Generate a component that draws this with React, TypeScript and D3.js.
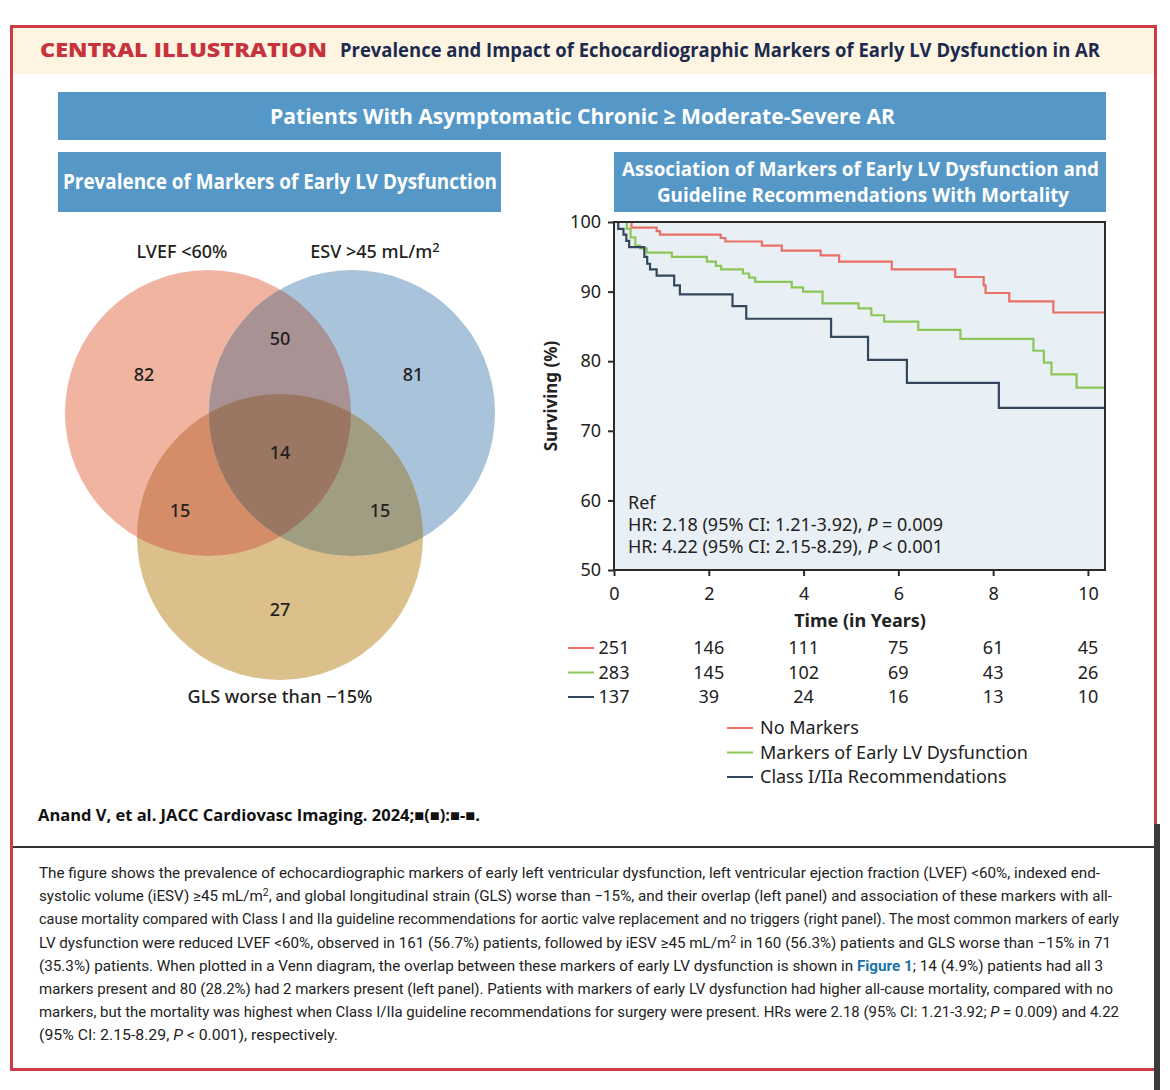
import * as d3 from "d3";
import { useRef, useEffect } from "react";

// Venn diagram counts
const vennRegions = ["LVEF", "ESV", "GLS", "LVEF+ESV", "LVEF+GLS", "ESV+GLS", "ALL"];
const vennValues = [82, 81, 27, 50, 15, 15, 14];

// Kaplan-Meier step curves (time in years, surviving %)
const timeNoMarkers = [0, 0.37, 0.9, 0.97, 2.25, 2.35, 3.12, 3.54, 4.36, 4.75, 5.86, 7.2, 7.8, 7.84, 8.34, 9.27, 10.36];
const survNoMarkers = [100, 99.2, 98.7, 98.2, 97.7, 97.2, 96.6, 95.9, 95.2, 94.3, 93.2, 92.1, 90.9, 89.8, 88.6, 87.0, 87.0];

const timeMarkers = [0, 0.27, 0.35, 0.45, 0.55, 0.69, 1.22, 1.96, 2.15, 2.26, 2.72, 2.85, 2.98, 3.75, 3.99, 4.4, 5.16, 5.43, 5.7, 6.42, 7.31, 8.85, 9.07, 9.23, 9.76, 10.36];
const survMarkers = [100, 99.0, 97.8, 96.6, 96.2, 95.6, 95.0, 94.3, 93.7, 93.2, 92.6, 92.0, 91.4, 90.6, 90.0, 88.3, 87.6, 86.6, 85.7, 84.5, 83.2, 81.5, 79.8, 78.1, 76.2, 76.2];

const timeClass = [0, 0.09, 0.2, 0.26, 0.32, 0.64, 0.7, 0.76, 0.9, 1.27, 1.39, 2.5, 2.79, 4.58, 5.36, 6.18, 8.12, 10.36];
const survClass = [100, 99.0, 98.2, 97.3, 96.4, 95.0, 94.0, 93.2, 92.3, 90.9, 89.6, 87.9, 86.1, 83.5, 80.2, 76.9, 73.3, 73.3];

// numbers at risk
const riskYears = [0, 2, 4, 6, 8, 10];
const riskNoMarkers = [251, 146, 111, 75, 61, 45];
const riskMarkers = [283, 145, 102, 69, 43, 26];
const riskClass = [137, 39, 24, 16, 13, 10];

const seriesNames = ["No Markers", "Markers of Early LV Dysfunction", "Class I/IIa Recommendations"];
const seriesColors = ["#ea6f66", "#8cc658", "#34475c"];

const yTicks = [50, 60, 70, 80, 90, 100];
const xTicks = [0, 2, 4, 6, 8, 10];

const hrLines = [
  [{ t: "Ref" }],
  [{ t: "HR: 2.18 (95% CI: 1.21-3.92), " }, { t: "P", i: true }, { t: " = 0.009" }],
  [{ t: "HR: 4.22 (95% CI: 2.15-8.29), " }, { t: "P", i: true }, { t: " < 0.001" }],
];

type Seg = { t: string; sup?: boolean; i?: boolean; link?: boolean };
const captionLines: { segs: Seg[]; end: number }[] = [
  { segs: [{ t: "The figure shows the prevalence of echocardiographic markers of early left ventricular dysfunction, left ventricular ejection fraction (LVEF) <60%, indexed end-" }], end: 1100 },
  { segs: [{ t: "systolic volume (iESV) ≥45 mL/m" }, { t: "2", sup: true }, { t: ", and global longitudinal strain (GLS) worse than −15%, and their overlap (left panel) and association of these markers with all-" }], end: 1112 },
  { segs: [{ t: "cause mortality compared with Class I and IIa guideline recommendations for aortic valve replacement and no triggers (right panel). The most common markers of early" }], end: 1119 },
  { segs: [{ t: "LV dysfunction were reduced LVEF <60%, observed in 161 (56.7%) patients, followed by iESV ≥45 mL/m" }, { t: "2", sup: true }, { t: " in 160 (56.3%) patients and GLS worse than −15% in 71" }], end: 1111 },
  { segs: [{ t: "(35.3%) patients. When plotted in a Venn diagram, the overlap between these markers of early LV dysfunction is shown in " }, { t: "Figure 1", link: true }, { t: "; 14 (4.9%) patients had all 3" }], end: 1103 },
  { segs: [{ t: "markers present and 80 (28.2%) had 2 markers present (left panel). Patients with markers of early LV dysfunction had higher all-cause mortality, compared with no" }], end: 1113 },
  { segs: [{ t: "markers, but the mortality was highest when Class I/IIa guideline recommendations for surgery were present. HRs were 2.18 (95% CI: 1.21-3.92; " }, { t: "P", i: true }, { t: " = 0.009) and 4.22" }], end: 1119 },
  { segs: [{ t: "(95% CI: 2.15-8.29, " }, { t: "P", i: true }, { t: " < 0.001), respectively." }], end: 338 },
];

const W = 1170;
const H = 1090;
const BLUE = "#5598c7";
const SANS = "'Noto Sans', 'Open Sans', sans-serif";
const HEAD = "'Open Sans', 'Noto Sans', sans-serif";

// venn layout
const R = 143;
const cA = [208, 413];
const cB = [352, 413];
const cC = [280, 537];
const vennLabelPos: Record<string, number[]> = {
  LVEF: [144, 381],
  ESV: [413, 381],
  GLS: [280, 616],
  "LVEF+ESV": [280, 345],
  "LVEF+GLS": [180, 517],
  "ESV+GLS": [380, 517],
  ALL: [280, 459],
};

const plot = { left: 614, right: 1105, top: 222, bottom: 570 };

function App() {
  const yAxisRef = useRef<SVGGElement>(null);
  const xAxisRef = useRef<SVGGElement>(null);

  const x = d3.scaleLinear().domain([0, 10.36]).range([plot.left, plot.right]);
  const y = d3.scaleLinear().domain([50, 100]).range([plot.bottom, plot.top]);

  useEffect(() => {
    const ya = d3.select(yAxisRef.current);
    ya.call(d3.axisLeft(y).tickValues(yTicks).tickSize(6).tickPadding(7));
    const xa = d3.select(xAxisRef.current);
    xa.call(d3.axisBottom(x).tickValues(xTicks).tickSize(6).tickPadding(11));
    [ya, xa].forEach((a) => {
      a.select(".domain").remove();
      a.selectAll("line").attr("stroke", "#2b2b2b").attr("stroke-width", 2);
      a.selectAll("text").attr("font-size", 18).attr("font-family", SANS).attr("fill", "#222");
    });
  }, []);

  const line = d3
    .line<[number, number]>()
    .x((d) => x(d[0]))
    .y((d) => y(d[1]))
    .curve(d3.curveStepAfter);

  const curves = [
    d3.zip(timeNoMarkers, survNoMarkers) as [number, number][],
    d3.zip(timeMarkers, survMarkers) as [number, number][],
    d3.zip(timeClass, survClass) as [number, number][],
  ];
  const riskRows = [riskNoMarkers, riskMarkers, riskClass];

  return (
    <svg width={W} height={H} style={{ position: "absolute", left: 0, top: 0, display: "block" }}>
      <rect width={W} height={H} fill="#fff" />
      <defs>
        <clipPath id="clipB"><circle cx={cB[0]} cy={cB[1]} r={R} /></clipPath>
        <clipPath id="clipC"><circle cx={cC[0]} cy={cC[1]} r={R} /></clipPath>
        <clipPath id="plotClip"><rect x={plot.left} y={plot.top - 2} width={plot.right - plot.left} height={plot.bottom - plot.top + 2} /></clipPath>
      </defs>

      {/* header band */}
      <rect x={12} y={27} width={1143} height={47} fill="#fdf5e2" />
      <text x={40} y={57} fontFamily={HEAD} fontWeight={800} fontSize={19} fill="#c8323d" textLength={287} lengthAdjust="spacingAndGlyphs">
        CENTRAL ILLUSTRATION
      </text>
      <text x={340} y={57} fontFamily={HEAD} fontWeight={700} fontSize={19} fill="#1c2a4e" textLength={760} lengthAdjust="spacingAndGlyphs">
        Prevalence and Impact of Echocardiographic Markers of Early LV Dysfunction in AR
      </text>

      {/* banners */}
      <rect x={58} y={92} width={1048} height={48} fill={BLUE} />
      <text x={270} y={124} fontFamily={HEAD} fontWeight={700} fontSize={22} fill="#fff" textLength={625} lengthAdjust="spacingAndGlyphs">
        Patients With Asymptomatic Chronic ≥ Moderate-Severe AR
      </text>
      <rect x={58} y={152} width={443} height={60} fill={BLUE} />
      <text x={63} y={189} fontFamily={HEAD} fontWeight={700} fontSize={21} fill="#fff" textLength={434} lengthAdjust="spacingAndGlyphs">
        Prevalence of Markers of Early LV Dysfunction
      </text>
      <rect x={614} y={152} width={492} height={60} fill={BLUE} />
      <text x={622} y={176} fontFamily={HEAD} fontWeight={700} fontSize={19} fill="#fff" textLength={477} lengthAdjust="spacingAndGlyphs">
        Association of Markers of Early LV Dysfunction and
      </text>
      <text x={657} y={202} fontFamily={HEAD} fontWeight={700} fontSize={19} fill="#fff" textLength={412} lengthAdjust="spacingAndGlyphs">
        Guideline Recommendations With Mortality
      </text>

      {/* venn */}
      <g>
        <circle cx={cA[0]} cy={cA[1]} r={R} fill="#f0b4a0" />
        <circle cx={cB[0]} cy={cB[1]} r={R} fill="#a9c3db" />
        <circle cx={cC[0]} cy={cC[1]} r={R} fill="#dcc08b" />
        <circle cx={cA[0]} cy={cA[1]} r={R} fill="#a99293" clipPath="url(#clipB)" />
        <circle cx={cA[0]} cy={cA[1]} r={R} fill="#d48d68" clipPath="url(#clipC)" />
        <circle cx={cB[0]} cy={cB[1]} r={R} fill="#a09d83" clipPath="url(#clipC)" />
        <g clipPath="url(#clipC)">
          <circle cx={cA[0]} cy={cA[1]} r={R} fill="#9b7662" clipPath="url(#clipB)" />
        </g>
        {vennRegions.map((k, i) => (
          <text key={k} x={vennLabelPos[k][0]} y={vennLabelPos[k][1]} textAnchor="middle" fontFamily={SANS} fontWeight={500} fontSize={18} fill="#231f20">
            {vennValues[i]}
          </text>
        ))}
        <text x={182} y={258} textAnchor="middle" fontFamily={SANS} fontWeight={500} fontSize={18} fill="#231f20">LVEF &lt;60%</text>
        <text x={375} y={258} textAnchor="middle" fontFamily={SANS} fontWeight={500} fontSize={18} fill="#231f20">
          ESV &gt;45 mL/m<tspan dy={-6} fontSize={13}>2</tspan>
        </text>
        <text x={280} y={703} textAnchor="middle" fontFamily={SANS} fontWeight={500} fontSize={18} fill="#231f20">GLS worse than −15%</text>
      </g>

      {/* KM plot */}
      <rect x={plot.left} y={plot.top} width={plot.right - plot.left} height={plot.bottom - plot.top} fill="#e9f0f5" />
      <g clipPath="url(#plotClip)">
        {curves.map((c, i) => (
          <path key={i} d={line(c) || ""} fill="none" stroke={seriesColors[i]} strokeWidth={2.2} />
        ))}
      </g>
      <rect x={plot.left} y={plot.top} width={plot.right - plot.left} height={plot.bottom - plot.top} fill="none" stroke="#2b2b2b" strokeWidth={2} />
      <g ref={yAxisRef} transform={`translate(${plot.left},0)`} />
      <g ref={xAxisRef} transform={`translate(0,${plot.bottom})`} />
      <text transform={`translate(557,396) rotate(-90)`} textAnchor="middle" fontFamily={SANS} fontWeight={700} fontSize={17} fill="#222">
        Surviving (%)
      </text>
      <text x={860} y={627} textAnchor="middle" fontFamily={SANS} fontWeight={700} fontSize={18} fill="#222">
        Time (in Years)
      </text>
      {hrLines.map((ln, i) => (
        <text key={i} x={628} y={509 + i * 22} fontFamily={SANS} fontSize={18} fill="#222">
          {ln.map((s, j) => (
            <tspan key={j} fontStyle={s.i ? "italic" : "normal"}>{s.t}</tspan>
          ))}
        </text>
      ))}

      {/* numbers at risk */}
      {riskRows.map((row, i) => (
        <g key={i}>
          <line x1={568} x2={594} y1={648 + i * 24.5} y2={648 + i * 24.5} stroke={seriesColors[i]} strokeWidth={2} />
          {row.map((v, j) => (
            <text key={j} x={x(riskYears[j])} y={654 + i * 24.5} textAnchor="middle" fontFamily={SANS} fontSize={18} fill="#222">
              {v}
            </text>
          ))}
        </g>
      ))}

      {/* legend */}
      {seriesNames.map((n, i) => (
        <g key={n}>
          <line x1={727} x2={753} y1={728 + i * 24.5} y2={728 + i * 24.5} stroke={seriesColors[i]} strokeWidth={2} />
          <text x={760} y={734 + i * 24.5} fontFamily={SANS} fontSize={18} fill="#222">{n}</text>
        </g>
      ))}

      {/* citation */}
      <text x={38} y={821} fontFamily={HEAD} fontWeight={700} fontSize={16} fill="#111" textLength={442} lengthAdjust="spacingAndGlyphs">
        Anand V, et al. JACC Cardiovasc Imaging. 2024;■(■):■-■.
      </text>
      <line x1={12} x2={1155} y1={847} y2={847} stroke="#333" strokeWidth={2} />

      {/* caption */}
      {captionLines.map((ln, i) => (
        <text key={i} x={39} y={878 + i * 23.2} fontFamily="Roboto, 'Noto Sans', sans-serif" fontSize={14.5} fill="#222" textLength={ln.end - 39} lengthAdjust="spacingAndGlyphs">
          {ln.segs.map((s, j) => (
            <tspan
              key={j}
              dy={s.sup ? -5 : j > 0 && ln.segs[j - 1].sup ? 5 : 0}
              fontSize={s.sup ? 10 : 14.5}
              fontStyle={s.i ? "italic" : "normal"}
              fill={s.link ? "#1a73a8" : "#222"}
              fontWeight={s.link ? 700 : 400}
            >
              {s.t}
            </tspan>
          ))}
        </text>
      ))}

      {/* frame */}
      <rect x={11.5} y={26.5} width={1144} height={1043} fill="none" stroke="#cf3b44" strokeWidth={3} />
      <rect x={1154} y={824} width={6} height={266} fill="#3a3a3a" />
    </svg>
  );
}

export default App;
